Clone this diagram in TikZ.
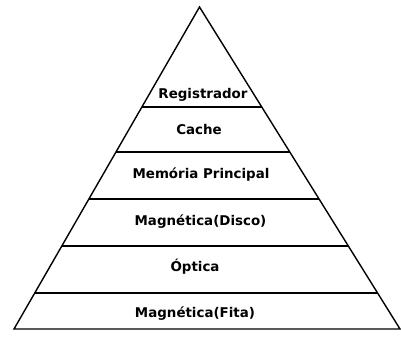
\documentclass[tikz,border=0pt]{standalone}
\usepackage{fontspec}
\setmainfont{DejaVu Sans}
\usetikzlibrary{calc}
\begin{document}
\begin{tikzpicture}[x=1pt,y=-1pt,
  edge/.style={line width=1.4pt, line join=miter},
  lvl/.style={font=\bfseries\fontsize{13.4}{14}\selectfont, inner sep=0pt, anchor=center}]
\useasboundingbox (0,0) rectangle (401,339);
\coordinate (A) at (199.5,7);
\coordinate (L) at (14,329);
\coordinate (R) at (400,329);
\draw[edge] (A) -- (L) -- (R) -- cycle;
\foreach \t [count=\i] in {0.3106,0.4503,0.5963,0.7422,0.8882}{
  \coordinate (l\i) at ($(A)!\t!(L)$);
  \coordinate (r\i) at ($(A)!\t!(R)$);
  \draw[edge] (l\i) -- (r\i);
}
\node[lvl] (reg) at (203,95) {Registrador};
\node[lvl] (cache) at (199,129.5) {Cache};
\node[lvl] (mem) at (201,175) {Memória Principal};
\node[lvl] (disco) at (200.5,222) {Magnética(Disco)};
\node[lvl] (opt) at (195,267) {Óptica};
\node[lvl] (fita) at (195,314) {Magnética(Fita)};
\end{tikzpicture}
\end{document}
